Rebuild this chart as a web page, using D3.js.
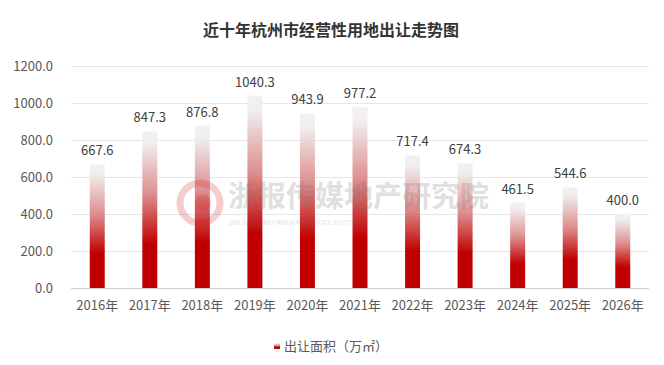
<!DOCTYPE html>
<html>
<head>
<meta charset="utf-8">
<script src="https://cdn.jsdelivr.net/npm/d3@7"></script>
<style>
  body { margin: 0; background: #fff; }
  svg { display: block; font-family: "Noto Sans CJK SC", "Noto Sans", sans-serif; }
</style>
</head>
<body>
<svg></svg>
<script>
// 年份
let years = ['2016年', '2017年', '2018年', '2019年', '2020年', '2021年', '2022年', '2023年', '2024年', '2025年', '2026年'];

// 出让面积（万㎡）
let areas = [667.6, 847.3, 876.8, 1040.3, 943.9, 977.2, 717.4, 674.3, 461.5, 544.6, 400.0];

// y 轴刻度
let yTicks = [0, 200, 400, 600, 800, 1000, 1200];

let width = 664;
let height = 365;

let margin = { top: 66, left: 71, right: 15, bottom: 77 };

let svg = d3.select('svg')
    .attr('width', width)
    .attr('height', height);

// 比例尺
let x = d3.scaleBand()
    .domain(years)
    .range([margin.left, width - margin.right])
    .paddingInner(0.715)
    .paddingOuter(0.357);

let y = d3.scaleLinear()
    .domain([0, 1200])
    .range([height - margin.bottom, margin.top]);

// 渐变
let defs = svg.append('defs');
let grad = defs.append('linearGradient')
    .attr('id', 'barGrad')
    .attr('x1', 0).attr('y1', 0)
    .attr('x2', 0).attr('y2', 1);
grad.append('stop').attr('offset', '0%').attr('stop-color', '#f2f2f2');
grad.append('stop').attr('offset', '8%').attr('stop-color', '#f0eded');
grad.append('stop').attr('offset', '40%').attr('stop-color', '#de8e8e');
grad.append('stop').attr('offset', '72%').attr('stop-color', '#c00000');
grad.append('stop').attr('offset', '100%').attr('stop-color', '#c00000');

// 标题
svg.append('text')
    .attr('x', 331)
    .attr('y', 36)
    .attr('text-anchor', 'middle')
    .style('font-size', '16px')
    .style('font-weight', 'bold')
    .style('fill', '#333')
    .text('近十年杭州市经营性用地出让走势图');

// 网格线
svg.append('g')
    .selectAll('line')
    .data(yTicks)
    .enter()
    .append('line')
    .attr('x1', margin.left)
    .attr('x2', width - margin.right)
    .attr('y1', d => y(d) + 0.5)
    .attr('y2', d => y(d) + 0.5)
    .style('stroke', d => d === 0 ? '#d0d0d0' : '#e6e6e6')
    .style('stroke-width', 1);

// y 轴标签
svg.append('g')
    .selectAll('text')
    .data(yTicks)
    .enter()
    .append('text')
    .attr('x', 53)
    .attr('y', d => y(d))
    .attr('dy', '0.35em')
    .attr('text-anchor', 'end')
    .style('font-size', '13px')
    .style('fill', '#595959')
    .text(d => d.toFixed(1));

// 柱子
svg.append('g')
    .selectAll('rect')
    .data(areas)
    .enter()
    .append('rect')
    .attr('x', (d, i) => x(years[i]))
    .attr('y', d => y(d))
    .attr('width', x.bandwidth())
    .attr('height', d => y(0) - y(d))
    .style('fill', 'url(#barGrad)');

// 水印（盖在柱子上）
let wm = svg.append('g').style('opacity', 0.22);
wm.append('circle')
    .attr('cx', 200).attr('cy', 203).attr('r', 20)
    .style('fill', 'none')
    .style('stroke', '#d02020')
    .style('stroke-width', 7);
wm.append('circle')
    .attr('cx', 203).attr('cy', 203).attr('r', 8)
    .style('fill', '#d02020');
wm.append('text')
    .attr('x', 228).attr('y', 207)
    .style('font-size', '29px')
    .style('font-weight', 'bold')
    .style('fill', '#777')
    .text('浙报传媒地产研究院');
wm.append('text')
    .attr('x', 229).attr('y', 225)
    .style('font-size', '6px')
    .style('fill', '#777')
    .text('ZHEJIANG DAILY MEDIA REAL ESTATE INSTITUTE');

// 数值标签
svg.append('g')
    .selectAll('text')
    .data(areas)
    .enter()
    .append('text')
    .attr('x', (d, i) => x(years[i]) + x.bandwidth() / 2)
    .attr('y', d => y(d) - 9)
    .attr('text-anchor', 'middle')
    .style('font-size', '13px')
    .style('fill', '#404040')
    .text(d => d.toFixed(1));

// x 轴标签
svg.append('g')
    .selectAll('text')
    .data(years)
    .enter()
    .append('text')
    .attr('x', d => x(d) + x.bandwidth() / 2)
    .attr('y', 310)
    .attr('text-anchor', 'middle')
    .style('font-size', '13px')
    .style('fill', '#595959')
    .text(d => d);

// 图例
let legend = svg.append('g');
legend.append('rect')
    .attr('x', 274).attr('y', 343)
    .attr('width', 6).attr('height', 6)
    .style('fill', 'url(#barGrad)');
legend.append('text')
    .attr('x', 284).attr('y', 351)
    .style('font-size', '13px')
    .style('fill', '#595959')
    .text('出让面积（万㎡）');
</script>
</body>
</html>
